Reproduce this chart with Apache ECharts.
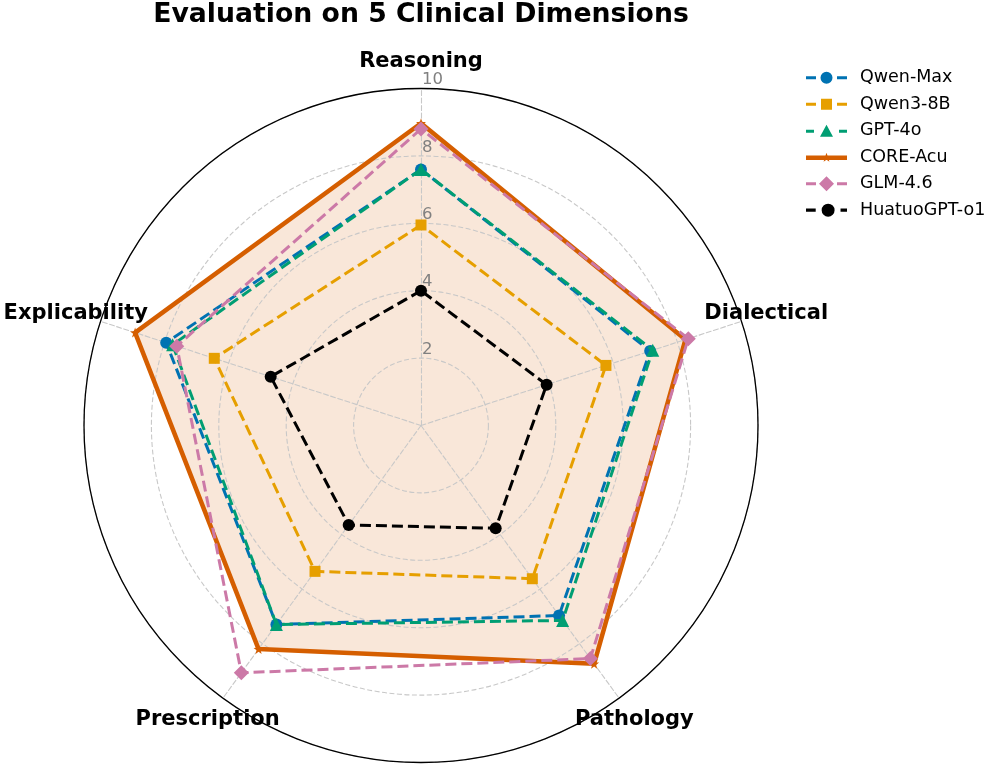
<!DOCTYPE html>
<html>
<head>
<meta charset="utf-8">
<script src="https://cdn.jsdelivr.net/npm/echarts@6/dist/echarts.min.js"></script>
<style>
html,body{margin:0;padding:0;background:#ffffff;}
#chart{width:996px;height:766px;}
</style>
</head>
<body>
<div id="chart"></div>
<script>
// ---------------- data ----------------
const chartTitle = 'Evaluation on 5 Clinical Dimensions';
const dimensions = ['Reasoning', 'Dialectical', 'Pathology', 'Prescription', 'Explicability'];
const maxScore = 10;
const radialTickLabels = ['2', '4', '6', '8', '10'];
const modelNames = ['Qwen-Max', 'Qwen3-8B', 'GPT-4o', 'CORE-Acu', 'GLM-4.6', 'HuatuoGPT-o1'];

// values in the order of `dimensions`
const qwenMax   = [7.6, 7.15, 6.97, 7.3, 7.95];
const qwen3_8b  = [5.95, 5.77, 5.62, 5.35, 6.45];
const gpt4o     = [7.6, 7.23, 7.15, 7.3, 7.75];
const coreAcu   = [8.97, 8.25, 8.74, 8.2, 8.92];
const glm46     = [8.8, 8.34, 8.55, 9.07, 7.62];
const huatuoO1  = [4.0, 3.92, 3.77, 3.65, 4.69];

const modelValues = [qwenMax, qwen3_8b, gpt4o, coreAcu, glm46, huatuoO1];

// ---------------- styling ----------------
const FONT = 'DejaVu Sans';
const colors = ['#0072B2', '#E69F00', '#009E73', '#D55E00', '#CC79A7', '#000000'];
const symbols = [
  'circle',
  'rect',
  'triangle',
  'path://M0 -5 L1.176 -1.618 L4.755 -1.545 L1.902 0.618 L2.939 4.045 L0 2 L-2.939 4.045 L-1.902 0.618 L-4.755 -1.545 L-1.176 -1.618 Z',
  'diamond',
  'circle'
];
const symbolSizes = [12, 11, 13, 10, 15, 12];
const solidIdx = 3;   // CORE-Acu: solid line with filled area

// legend icons (line + marker), box 41 x 16
const dashL = 'M0 6.5 H10 V9.5 H0 Z M31 6.5 H41 V9.5 H31 Z ';
const circleIcon = 'M14.5 8 A6 6 0 1 0 26.5 8 A6 6 0 1 0 14.5 8 Z';
const legendIcons = [
  'path://' + dashL + circleIcon,
  'path://' + dashL + 'M15 2.5 H26 V13.5 H15 Z',
  'path://M0 6.5 H8 V9.5 H0 Z M33 6.5 H41 V9.5 H33 Z M20.5 1.5 L27 13.5 L14 13.5 Z',
  'path://M0 5.75 H41 V10.25 H0 Z M20.5 3 L21.676 6.382 L25.255 6.455 L22.402 8.618 L23.439 12.045 L20.5 10 L17.561 12.045 L18.598 8.618 L15.745 6.455 L19.324 6.382 Z',
  'path://' + dashL + 'M20.5 0.5 L28 8 L20.5 15.5 L13 8 Z',
  'path://M0 6.5 H9 V9.5 H0 Z M32 6.5 H38 V9.5 H32 Z ' + circleIcon
];

// ECharts radar places indicators counter-clockwise; reference runs clockwise
const order = [0, 4, 3, 2, 1];

const tickLabelStyle = {
  show: true,
  color: '#808080',
  fontSize: 16.5,
  fontFamily: FONT,
  margin: -1,
  align: 'left',
  verticalAlign: 'bottom',
  formatter: function (v) {
    const s = String(v);
    return radialTickLabels.indexOf(s) >= 0 ? s : '';
  }
};

const indicators = order.map(function (k, i) {
  const ind = { name: dimensions[k], min: 0, max: maxScore };
  if (i === 0) ind.axisLabel = Object.assign({}, tickLabelStyle);
  return ind;
});

const gridLine = { color: '#c8c8c8', width: 1.1, type: [5, 2.5] };
const CENTER = [421, 425.5];
const RADIUS = 337;

const series = [];
modelNames.forEach(function (n, i) {
  const solid = i === solidIdx;
  const vals = order.map(function (k) { return modelValues[i][k]; });
  if (solid) {
    // filled area placed below the grid lines
    series.push({
      type: 'radar',
      name: n + ' area',
      radarIndex: 0,
      symbol: 'none',
      z: 0,
      silent: true,
      lineStyle: { width: 0, color: colors[i] },
      areaStyle: { color: colors[i], opacity: 0.15 },
      emphasis: { disabled: true },
      data: [{ name: n + ' area', value: vals }]
    });
  }
  series.push({
    type: 'radar',
    name: n,
    radarIndex: 0,
    symbol: symbols[i],
    symbolSize: symbolSizes[i],
    lineStyle: { color: colors[i], width: solid ? 4.5 : 3, type: solid ? 'solid' : [11, 5] },
    itemStyle: { color: colors[i], borderWidth: 0 },
    emphasis: { disabled: true },
    z: 3 + i,
    data: [{ name: n, value: vals }]
  });
});

const option = {
  animation: false,
  backgroundColor: '#ffffff',
  title: {
    text: chartTitle,
    left: 421,
    top: 1.5,
    padding: 0,
    textAlign: 'center',
    textStyle: { fontFamily: FONT, fontSize: 26.7, fontWeight: 'bold', color: '#000000' }
  },
  legend: {
    orient: 'vertical',
    left: 806,
    top: 68.7,
    padding: 0,
    itemWidth: 41,
    itemHeight: 16,
    itemGap: 8.5,
    selectedMode: false,
    textStyle: { fontFamily: FONT, fontSize: 17.5, color: '#000000', padding: [0, 0, 0, 8] },
    itemStyle: { borderWidth: 0 },
    data: modelNames.map(function (n, i) {
      return { name: n, icon: legendIcons[i], itemStyle: { color: colors[i], borderWidth: 0 } };
    })
  },
  radar: [
    {
      z: 1,
      center: CENTER,
      radius: RADIUS,
      startAngle: 90,
      shape: 'circle',
      splitNumber: 5,
      indicator: indicators,
      nameGap: 26,
      axisName: {
        color: '#000000',
        fontFamily: FONT,
        fontSize: 21,
        fontWeight: 'bold',
        align: 'center',
        verticalAlign: 'middle'
      },
      axisLine: { show: true, lineStyle: gridLine },
      splitLine: { show: true, lineStyle: gridLine },
      splitArea: { show: false },
      axisTick: { show: false },
      axisLabel: { show: false }
    },
    {
      z: 1,
      center: CENTER,
      radius: RADIUS,
      startAngle: 90,
      shape: 'circle',
      splitNumber: 1,
      indicator: order.map(function () { return { name: '', min: 0, max: maxScore }; }),
      axisName: { show: false },
      axisLine: { show: false },
      splitLine: { show: true, lineStyle: { color: '#000000', width: 1.3, type: 'solid' } },
      splitArea: { show: false },
      axisTick: { show: false },
      axisLabel: { show: false }
    }
  ],
  series: series
};

const chart = echarts.init(document.getElementById('chart'), null, { renderer: 'canvas' });
chart.setOption(option);
</script>
</body>
</html>
